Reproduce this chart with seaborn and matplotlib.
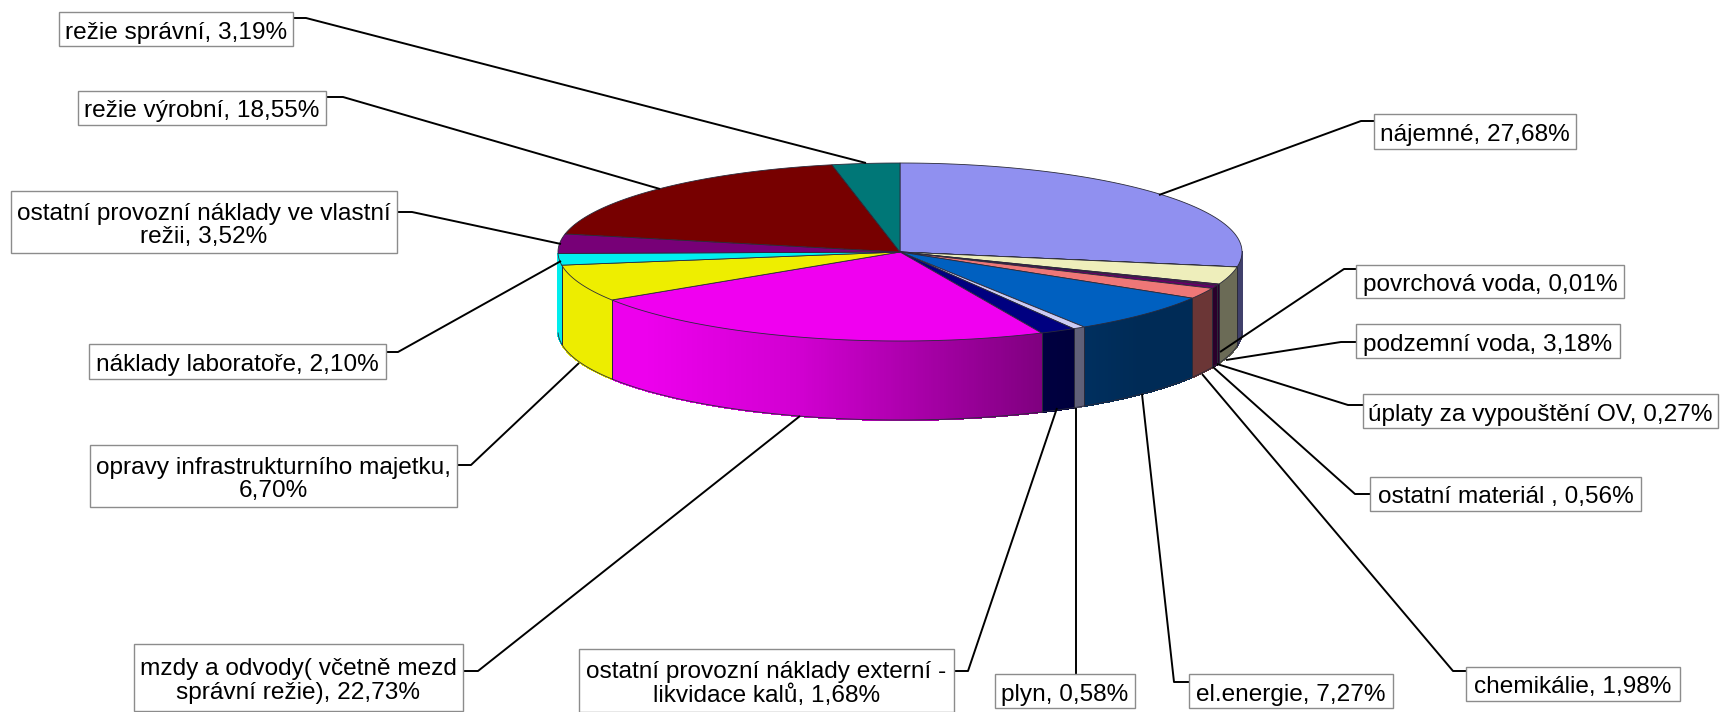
import numpy as np
import matplotlib
matplotlib.use("Agg")
import matplotlib.pyplot as plt
from matplotlib.patches import Polygon, Rectangle
from matplotlib.collections import PolyCollection
import seaborn as sns

# ---- data (clockwise from 12 o'clock) ----
categories = ["nájemné", "povrchová voda", "podzemní voda", "úplaty za vypouštění OV",
              "ostatní materiál ", "chemikálie", "el.energie", "plyn",
              "ostatní provozní náklady externí - likvidace kalů",
              "mzdy a odvody( včetně mezd správní režie)", "opravy infrastrukturního majetku",
              "náklady laboratoře", "ostatní provozní náklady ve vlastní režii",
              "režie výrobní", "režie správní"]
shares = [27.68, 0.01, 3.18, 0.27, 0.56, 1.98, 7.27, 0.58, 1.68, 22.73, 6.70, 2.10, 3.52, 18.55, 3.19]
label_lines = [
    ["nájemné, 27,68%"], ["povrchová voda, 0,01%"], ["podzemní voda, 3,18%"],
    ["úplaty za vypouštění OV, 0,27%"], ["ostatní materiál , 0,56%"], ["chemikálie, 1,98%"],
    ["el.energie, 7,27%"], ["plyn, 0,58%"],
    ["ostatní provozní náklady externí -", "likvidace kalů, 1,68%"],
    ["mzdy a odvody( včetně mezd", "správní režie), 22,73%"],
    ["opravy infrastrukturního majetku,", "6,70%"], ["náklady laboratoře, 2,10%"],
    ["ostatní provozní náklady ve vlastní", "režii, 3,52%"], ["režie výrobní, 18,55%"],
    ["režie správní, 3,19%"],
]
top_colors = ["#9090F0", "#993366", "#EEEEBB", "#660066", "#660066", "#EE7777", "#0060C0", "#CCCCF5",
              "#000080", "#F000F0", "#EEEE00", "#00F0F0", "#770077", "#770000", "#007777"]

# ---- layout (pixels of the 1724x712 picture) ----
CX, CY, RX, RY, DEPTH = 900, 252, 342, 89, 79
boxes = [(1374, 114, 1576, 149), (1356, 265, 1624, 298), (1356, 324, 1620, 358), (1363, 394, 1718, 428),
         (1370, 477, 1641, 511), (1466, 667, 1680, 701), (1189, 674, 1393, 708), (995, 674, 1135, 708),
         (579, 649, 954, 712), (134, 644, 463, 711), (90, 445, 457, 507), (89, 344, 386, 379),
         (11, 191, 397, 253), (78, 91, 326, 125), (59, 12, 293, 46)]
leaders = [
    [(1374, 121), (1361, 121), (1159, 195)], [(1356, 269), (1344, 269), (1220, 352)],
    [(1356, 342), (1341, 342), (1226, 360)], [(1363, 405), (1348, 405), (1217, 364)],
    [(1370, 494), (1355, 494), (1213, 367)], [(1466, 671), (1453, 671), (1202, 374)],
    [(1189, 682), (1174, 682), (1142, 394)], [(1076, 674), (1076, 408)],
    [(954, 671), (968, 671), (1057, 408)], [(463, 671), (478, 671), (800, 416)],
    [(457, 465), (471, 465), (579, 363)], [(386, 352), (398, 352), (561, 261)],
    [(397, 212), (412, 212), (561, 244)], [(326, 97), (343, 97), (660, 189)],
    [(293, 18), (306, 18), (866, 163)],
]

sns.set_theme(style="white")
plt.rcParams["font.family"] = ["Liberation Sans", "DejaVu Sans"]
fig = plt.figure(figsize=(17.24, 7.12), dpi=100, facecolor="white")
ax = fig.add_axes([0, 0, 1, 1])
ax.set_xlim(0, 1724)
ax.set_ylim(712, 0)
ax.axis("off")

palette = sns.color_palette(top_colors)
base = sns.color_palette(["#9999FF", "#993366", "#FFFFCC", "#660066", "#660066", "#FF8080", "#0066CC",
                          "#CCCCFF", "#000080", "#FF00FF", "#FFFF00", "#00FFFF", "#800080", "#800000",
                          "#008080"])
edges = np.concatenate([[0], np.cumsum(shares)]) / np.sum(shares) * 2 * np.pi


def px(t):
    return CX + RX * np.sin(t)


def py(t):
    return CY - RY * np.cos(t)


def shade(u):
    return np.interp(u, [-1, -0.75, -0.3, 0.41, 0.7, 1], [0.93, 0.93, 0.82, 0.5, 0.42, 0.42])


EDGE = "#2a2a3a"
LEFT_LIMIT = 3 * np.pi / 2 - 0.02
# outer side walls: only the part facing the viewer
for i in range(len(shares)):
    a = max(edges[i], np.pi / 2)
    b = min(edges[i + 1], LEFT_LIMIT)
    if b <= a:
        continue
    n = max(2, int((b - a) * 160))
    ts = np.linspace(a, b, n + 1)
    polys, cols = [], []
    for t0, t1 in zip(ts[:-1], ts[1:]):
        polys.append([(px(t0), py(t0)), (px(t1), py(t1)),
                      (px(t1), py(t1) + DEPTH), (px(t0), py(t0) + DEPTH)])
        f = float(shade(np.sin((t0 + t1) / 2)))
        cols.append(tuple(c * f for c in base[i]))
    ax.add_collection(PolyCollection(polys, facecolors=cols, edgecolors=cols, linewidths=0.8,
                                     antialiaseds=False, zorder=2))
    ax.plot(px(ts), py(ts) + DEPTH, color=EDGE, lw=0.6, zorder=3)
    for t in (a, b):
        if 0.02 < t - np.pi / 2 and t < LEFT_LIMIT - 0.03:
            ax.plot([px(t), px(t)], [py(t), py(t) + DEPTH], color=EDGE, lw=0.7, zorder=3)

# top face
for i in range(len(shares)):
    n = max(2, int((edges[i + 1] - edges[i]) * 120))
    ts = np.linspace(edges[i], edges[i + 1], n + 1)
    xy = np.column_stack([np.r_[CX, px(ts)], np.r_[CY, py(ts)]])
    ax.add_patch(Polygon(xy, closed=True, facecolor=palette[i], edgecolor=EDGE, linewidth=0.6, zorder=4))

# leader lines and label boxes
for pts in leaders:
    p = np.array(pts)
    ax.plot(p[:, 0], p[:, 1], color="black", lw=1.4, zorder=5, solid_capstyle="butt", solid_joinstyle="round")

for (x0, y0, x1, y1), lines in zip(boxes, label_lines):
    ax.add_patch(Rectangle((x0, y0), x1 - x0, y1 - y0, facecolor="white", edgecolor="#8c8c8c", lw=1.0, zorder=6))
    ax.text((x0 + x1) / 2, (y0 + y1) / 2 + 3.5, "\n".join(lines), ha="center", va="center", ma="center",
            fontsize=17.6, color="black", linespacing=1.08, zorder=7)

fig.savefig("out.png", dpi=100, facecolor="white")
